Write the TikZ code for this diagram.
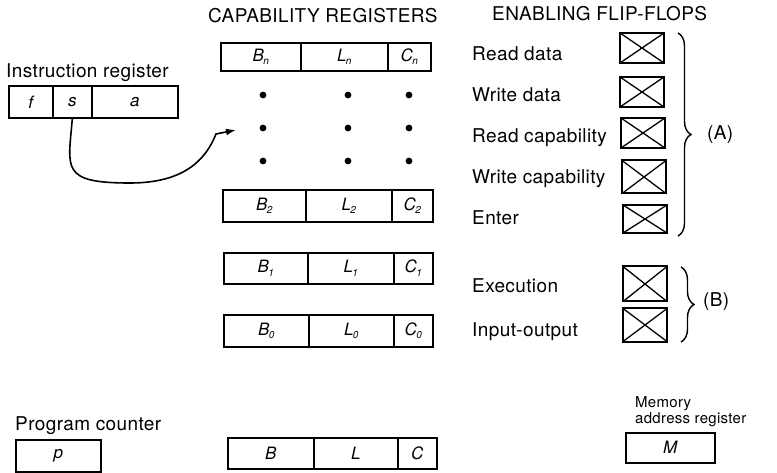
\documentclass[tikz,border=0pt]{standalone}
\usepackage{fontspec}
\setmainfont[LetterSpace=2]{TeX Gyre Heros}
\usetikzlibrary{arrows.meta,decorations.pathreplacing}
\def\rsub#1{\kern-0.5pt\raisebox{-3.5pt}{\fontsize{10}{10}\selectfont#1}}
\tikzset{
  field/.style={draw, line width=1.6pt, anchor=north west, inner sep=0pt,
    font=\fontsize{17}{17}\selectfont\itshape},
  flop/.style={draw, line width=2pt, minimum width=44pt, minimum height=30pt, inner sep=0pt,
    path picture={\draw[line width=1.3pt]
      (path picture bounding box.north west) -- (path picture bounding box.south east)
      (path picture bounding box.south west) -- (path picture bounding box.north east);}},
  lbl/.style={anchor=base west, inner sep=0pt, font=\fontsize{19}{19}\selectfont},
  smalllbl/.style={anchor=base west, inner sep=0pt, font=\fontsize{15}{15}\selectfont},
  bracket/.style={line width=1.4pt, decorate, decoration={brace, amplitude=13pt}},
}

\begin{document}
\begin{tikzpicture}[x=1pt, y=-1pt]
		%%%%% START %%%%%
		\useasboundingbox (0,0) rectangle (777,473);
		
		\node[lbl] (captitle) at (208,23) {CAPABILITY REGISTERS};
		\node[lbl] (fftitle) at (492,21) {ENABLING FLIP-FLOPS};
		
		% instruction register
		\node[lbl] (irtitle) at (6,78) {Instruction register};
		\node[field, minimum width=44pt, minimum height=32pt] (f) at (8,85) {f};
		\node[field, minimum width=39pt, minimum height=32pt] (s) at (52,85) {s};
		\node[field, minimum width=86pt, minimum height=32pt] (a) at (91,85) {a};
		
		% capability registers
		\foreach \r/\xa/\xb/\xc/\xd/\ya/\h in {n/220/300/387/430/42/28, 2/222/305/391/432/189/32,
		    1/223/307/393/432/252/31, 0/223/308/393/432/314/32}{
		  \node[field, minimum width={(\xb-\xa)*1pt}, minimum height=\h pt] (b\r) at (\xa,\ya) {B\rsub{\r}};
		  \node[field, minimum width={(\xc-\xb)*1pt}, minimum height=\h pt] (l\r) at (\xb,\ya) {L\rsub{\r}};
		  \node[field, minimum width={(\xd-\xc)*1pt}, minimum height=\h pt] (c\r) at (\xc,\ya) {C\rsub{\r}};
		}
		\foreach \x in {263,348,409}
		  \foreach \y in {95,128,161}
		    \fill (\x,\y) circle (3.4pt);
		
		\coordinate (tip) at (236,130);
		\draw[line width=1.6pt, -{Latex[length=10pt,width=7pt]}] (s.south)
		  .. controls +(-4,50) and +(-70,0) .. (130,183)
		  .. controls +(55,0) and +(-10,25) .. (216,134) -- (tip);
		
		% enabling flip-flops
		\node[lbl] (rdtxt) at (472,61) {Read data};
		\node[lbl] (wdtxt) at (472,102) {Write data};
		\node[lbl] (rctxt) at (472,143) {Read capability};
		\node[lbl] (wctxt) at (472,184) {Write capability};
		\node[lbl] (entxt) at (472,225) {Enter};
		\node[lbl] (extxt) at (472,293) {Execution};
		\node[lbl] (iotxt) at (472,336) {Input-output};
		
		\node[flop] (ffrd) at (642,48) {};
		\node[flop] (ffwd) at (642,92) {};
		\node[flop] (ffrc) at (643,133) {};
		\node[flop, minimum height=33pt] (ffwc) at (644,177) {};
		\node[flop, minimum height=28pt] (ffen) at (645,219) {};
		\node[flop, minimum height=35pt] (ffex) at (645,284) {};
		\node[flop, minimum height=33pt] (ffio) at (645,325) {};
		
		\draw[bracket] (678,33) -- (678,236);
		\node[anchor=west, inner sep=0pt, font=\fontsize{19}{19}\selectfont] (grpa) at (707,135) {(A)};
		\draw[bracket] (681,267) -- (681,342);
		\node[anchor=west, inner sep=0pt, font=\fontsize{19}{19}\selectfont] (grpb) at (703,302) {(B)};
		
		% bottom row
		\node[lbl] (pctxt) at (15,430) {Program counter};
		\node[field, minimum width=85pt, minimum height=32pt] (preg) at (15,439) {p};
		
		\node[field, minimum width=86pt, minimum height=31pt] (breg) at (227,437) {B};
		\node[field, minimum width=84pt, minimum height=31pt] (lreg) at (313,437) {L};
		\node[field, minimum width=39pt, minimum height=31pt] (creg) at (397,437) {C};
		
		\node[smalllbl] (memtxt) at (635,407) {Memory};
		\node[smalllbl] (adrtxt) at (635,423) {address register};
		\node[field, minimum width=89pt, minimum height=30pt] (mreg) at (625,432) {M};
		%%%%% END %%%%%
\end{tikzpicture}
\end{document}
